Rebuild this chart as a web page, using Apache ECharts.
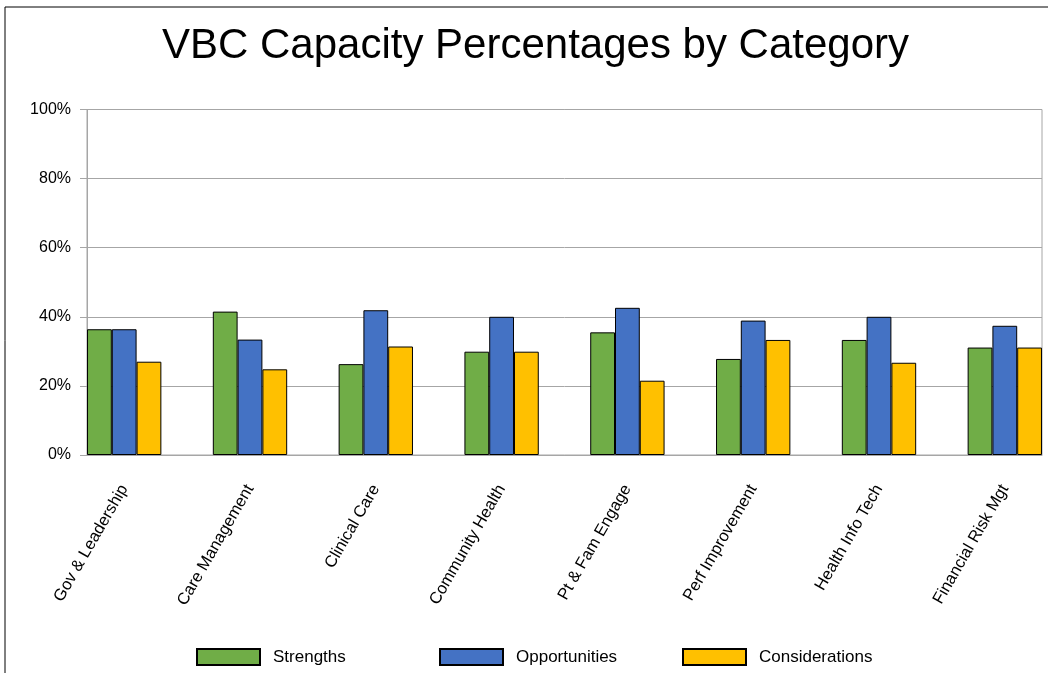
<!DOCTYPE html>
<html>
<head>
<meta charset="utf-8">
<script src="https://cdn.jsdelivr.net/npm/echarts@6/dist/echarts.min.js"></script>
<style>
html, body { margin: 0; padding: 0; background: #fff; }
#chart { width: 1048px; height: 673px; }
</style>
</head>
<body>
<div id="chart"></div>
<script>
// data
var categories = ['Gov & Leadership', 'Care Management', 'Clinical Care', 'Community Health',
    'Pt & Fam Engage', 'Perf Improvement', 'Health Info Tech', 'Financial Risk Mgt'];
var strengths     = [36.4, 41.5, 26.3, 29.9, 35.5, 27.8, 33.3, 31.1];
var opportunities = [36.4, 33.4, 41.9, 40.0, 42.6, 38.9, 40.0, 37.4];
var considerations = [27.0, 24.8, 31.4, 29.9, 21.5, 33.3, 26.7, 31.1];
var yTicks = [0, 20, 40, 60, 80, 100];

var font = 'Liberation Sans, Arial, sans-serif';
var myChart = echarts.init(document.getElementById('chart'));

function legendAt(name, x) {//one legend per item so each starts where the reference puts it
    return {
        data: [name], left: x, top: 648, padding: 0, itemWidth: 63, itemHeight: 16,
        icon: 'rect', selectedMode: false,
        textStyle: { fontFamily: font, fontSize: 17, color: '#000', padding: [0, 0, 0, 8] }
    };
}

function barSeries(name, data, color) {
    return {
        name: name, type: 'bar', data: data, barGap: '0%', barCategoryGap: '40.9%',
        xAxisIndex: 0, yAxisIndex: 0, clip: false,
        itemStyle: { color: color, borderColor: '#000', borderWidth: 1 }
    };
}

myChart.setOption({
    animation: false,
    title: {
        text: 'VBC Capacity Percentages by Category',
        left: 157, top: 20,
        textStyle: { fontFamily: font, fontSize: 42, fontWeight: 'normal', color: '#000' }
    },
    legend: [legendAt('Strengths', 196), legendAt('Opportunities', 439), legendAt('Considerations', 682)],
    grid: [
        // grid 0 carries the bars: category points run from the first group's centre
        // to the last one's, so the groups touch the y axis and the right edge
        { left: 124.2, right: 43.2, top: 109.5, bottom: 218 },
        // grid 1 is the visible plot box with the gridlines
        { left: 87, right: 6, top: 109.5, bottom: 218, show: true, borderColor: '#a6a6a6', borderWidth: 1 }
    ],
    xAxis: [{
        type: 'category', data: categories, gridIndex: 0, boundaryGap: false,
        axisLine: { show: false },
        axisTick: { show: false },
        splitLine: { show: false },
        axisLabel: { rotate: 60, margin: 31, fontFamily: font, fontSize: 16.5, color: '#000', interval: 0 }
    }, {
        type: 'value', gridIndex: 1, min: 0, max: 1,
        axisLine: { show: true, lineStyle: { color: '#a6a6a6' } },
        axisTick: { show: false }, axisLabel: { show: false }, splitLine: { show: false }
    }],
    yAxis: [{
        type: 'value', gridIndex: 0, min: yTicks[0], max: yTicks[yTicks.length - 1], interval: 20,
        show: false
    }, {
        type: 'value', gridIndex: 1, min: yTicks[0], max: yTicks[yTicks.length - 1], interval: 20,
        axisLine: { show: true, lineStyle: { color: '#a6a6a6' } },
        axisTick: { show: true, length: 7, lineStyle: { color: '#a6a6a6' } },
        splitLine: { lineStyle: { color: '#a6a6a6' } },
        axisLabel: { formatter: '{value}%', margin: 16, fontFamily: font, fontSize: 16, color: '#000' }
    }],
    graphic: [{
        type: 'rect', silent: true, z: -1,
        shape: { x: 5, y: 7, width: 1100, height: 700 },
        style: { fill: null, stroke: '#000', lineWidth: 1 }
    }],
    series: [
        barSeries('Strengths', strengths, '#70AD47'),
        barSeries('Opportunities', opportunities, '#4472C4'),
        barSeries('Considerations', considerations, '#FFC000')
    ]
});

window.onresize = function () {
    myChart.resize();
};
</script>
</body>
</html>
